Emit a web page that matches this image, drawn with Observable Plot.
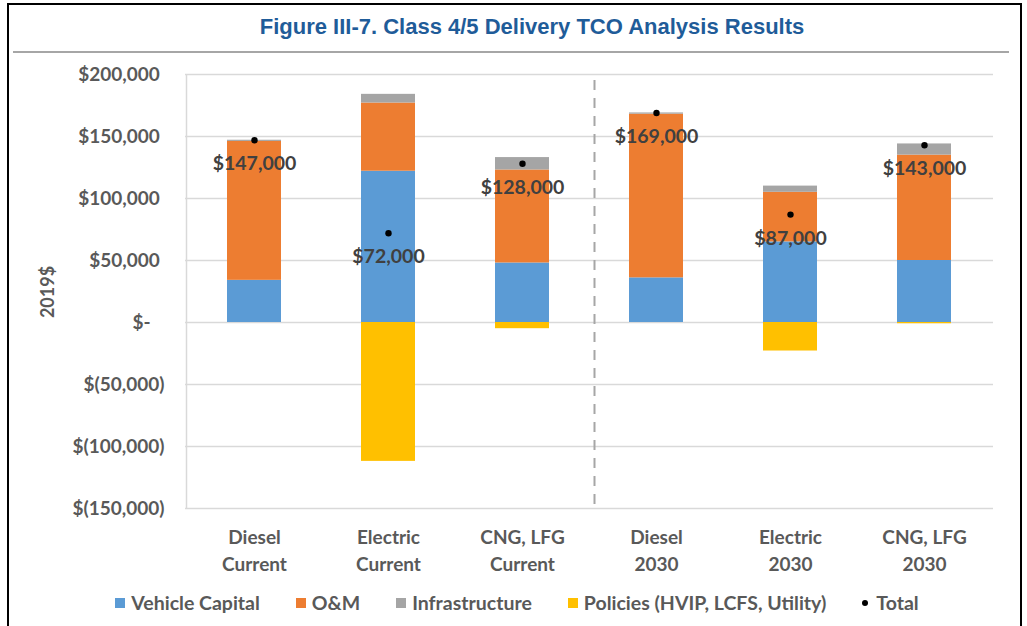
<!DOCTYPE html>
<html><head><meta charset="utf-8">
<script src="https://cdn.jsdelivr.net/npm/d3@7"></script>
<script src="https://cdn.jsdelivr.net/npm/@observablehq/plot@0.6"></script>
<style>
body{margin:0;width:1027px;height:626px;overflow:hidden;background:#fff;position:relative;font-family:Lato,sans-serif}
#frame{position:absolute;left:7px;top:3px;width:1015px;height:700px;border:2px solid #000;box-sizing:border-box}
#title{position:absolute;left:0;width:1064px;top:14px;text-align:center;font:bold 22px "Liberation Sans Narrow","Liberation Sans",sans-serif;color:#1f5c99;line-height:26px}
#rule{position:absolute;left:13px;width:996px;top:51px;height:2px;background:#a6a6a6}
#chart{position:absolute;left:0;top:48px}
#ylabel{position:absolute;left:7px;top:280px;width:80px;text-align:center;transform:rotate(-90deg);font:bold 18px Lato,sans-serif;color:#595959;line-height:24px}
#legend{position:absolute;left:0;width:1034px;top:591px;display:flex;justify-content:center;align-items:center;font:bold 19.5px Lato,sans-serif;color:#595959;line-height:24px}
#legend .item{display:flex;align-items:center;margin:0 18px}
#legend .sw{width:10px;height:10px;margin-right:6px}
#legend .dot{width:6px;height:6px;border-radius:50%;background:#000;margin-right:8px}
</style></head>
<body>
<div id="frame"></div>
<div id="title">Figure III-7. Class 4/5 Delivery TCO Analysis Results</div>
<div id="rule"></div>
<div id="chart"></div>
<div id="ylabel">2019$</div>
<div id="legend"></div>
<script>
const categories = ["Diesel\nCurrent", "Electric\nCurrent", "CNG, LFG\nCurrent", "Diesel\n2030", "Electric\n2030", "CNG, LFG\n2030"];
const seriesNames = ["Vehicle Capital", "O&M", "Infrastructure", "Policies (HVIP, LCFS, Utility)"];
const seriesColors = ["#5B9BD5", "#ED7D31", "#A5A5A5", "#FFC000"];
const vehicleCapital = [34000, 122000, 48000, 36000, 65000, 50000];
const oAndM = [112000, 55000, 75000, 132000, 40000, 85000];
const infrastructure = [1000, 7000, 10000, 1000, 5000, 9000];
const policies = [0, -112000, -5000, 0, -23000, -1000];
const totals = [147000, 72000, 128000, 169000, 87000, 143000];
const totalLabels = ["$147,000", "$72,000", "$128,000", "$169,000", "$87,000", "$143,000"];
const yTicks = [-150000, -100000, -50000, 0, 50000, 100000, 150000, 200000];

const seriesValues = [vehicleCapital, oAndM, infrastructure, policies];
const rows = [];
seriesNames.forEach((s, si) => categories.forEach((c, ci) => rows.push({category: c, series: s, value: seriesValues[si][ci]})));
const totalRows = categories.map((c, i) => ({category: c, total: totals[i], label: totalLabels[i]}));

const nb = "\u00a0";
const fmt = d3.format(",");
const tickFormat = d => d === 0 ? "$-" + nb + nb + nb : d < 0 ? `$(${fmt(-d)})` : `$${fmt(d)}` + nb;

const chart = Plot.plot({
  width: 1027, height: 530,
  marginLeft: 185, marginRight: 34, marginTop: 26, marginBottom: 70,
  style: {fontFamily: "Lato, sans-serif", fontSize: "19px", fontWeight: "bold", color: "#595959", background: "transparent", overflow: "visible"},
  x: {domain: categories, axis: null, paddingInner: 0.6, paddingOuter: 0.3},
  y: {domain: [-150000, 200000], ticks: yTicks, tickSize: 0, tickPadding: 21, tickFormat, label: null},
  color: {domain: seriesNames, range: seriesColors},
  marks: [
    Plot.ruleY(yTicks, {stroke: "#d9d9d9", strokeWidth: 1.5}),
    Plot.ruleX([categories[0]], {dx: -68, stroke: "#d9d9d9", strokeWidth: 1.5}),
    Plot.ruleX([categories[2]], {dx: 72, stroke: "#a6a6a6", strokeWidth: 2, strokeDasharray: "10,8", insetTop: 6, insetBottom: 3}),
    Plot.barY(rows, {x: "category", y: "value", fill: "series"}),
    Plot.dot(totalRows, {x: "category", y: "total", r: 3.2, fill: "#000"}),
    Plot.text(totalRows, {x: "category", y: "total", text: "label", dy: 24, fill: "#404040", fontSize: 19.5}),
    Plot.text(categories, {x: d => d, text: d => d, frameAnchor: "bottom", lineAnchor: "top", dy: 16, lineHeight: 1.42, fill: "#595959"})
  ]
});
document.getElementById("chart").appendChild(chart);

const legend = document.getElementById("legend");
seriesNames.forEach((s, i) => {
  const it = document.createElement("div"); it.className = "item";
  it.innerHTML = `<span class="sw" style="background:${seriesColors[i]}"></span><span>${s.replace("&", "&amp;")}</span>`;
  legend.appendChild(it);
});
const t = document.createElement("div"); t.className = "item";
t.innerHTML = `<span class="dot"></span><span>Total</span>`;
legend.appendChild(t);
</script>
</body></html>
